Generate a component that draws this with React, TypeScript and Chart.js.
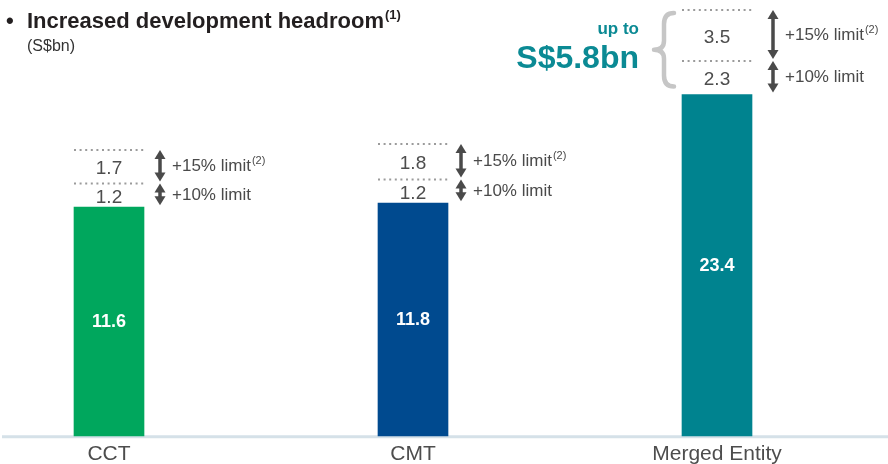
import { useEffect, useRef } from "react";
import { Chart, registerables } from "chart.js";

Chart.register(...registerables);

// ---- data ----
const categories = ["CCT", "CMT", "Merged Entity"];
const baseValues = [11.6, 11.8, 23.4];
const limit10 = [1.2, 1.2, 2.3];
const limit15 = [1.7, 1.8, 3.5];
const limitLabels = ["+10% limit", "+15% limit"];
// the merged entity is drawn on its own (compressed) value scale, as on the original slide
const axisOf = ["y", "y", "y2"];

// ---- styles ----
const barColors = ["#00A75D", "#004A8F", "#00838F"];
const arrowOffsets = [16, 13, 21];
const FONT = '"Liberation Sans", Arial, Helvetica, sans-serif';
const TEXT_GRAY = "#4a4a4a";
const TEAL_TEXT = "#0B8A94";

const pick = (arr: number[], axis: string) =>
  arr.map((v, i) => (axisOf[i] === axis ? v : null));

function drawDoubleArrow(ctx: CanvasRenderingContext2D, x: number, y1: number, y2: number) {
  const hw = 5.5;
  const hh = 9;
  ctx.save();
  ctx.fillStyle = "#4a4a4a";
  ctx.strokeStyle = "#4a4a4a";
  ctx.lineWidth = 3.5;
  ctx.beginPath();
  ctx.moveTo(x, y1 + hh - 1);
  ctx.lineTo(x, y2 - hh + 1);
  ctx.stroke();
  ctx.beginPath();
  ctx.moveTo(x, y1);
  ctx.lineTo(x - hw, y1 + hh);
  ctx.lineTo(x + hw, y1 + hh);
  ctx.closePath();
  ctx.fill();
  ctx.beginPath();
  ctx.moveTo(x, y2);
  ctx.lineTo(x - hw, y2 - hh);
  ctx.lineTo(x + hw, y2 - hh);
  ctx.closePath();
  ctx.fill();
  ctx.restore();
}

const annotPlugin = {
  id: "annot",
  beforeDatasetsDraw(chart: any) {
    const ctx = chart.ctx as CanvasRenderingContext2D;
    const yb = chart.chartArea.bottom + 1;
    ctx.save();
    ctx.strokeStyle = "#D5E1E8";
    ctx.lineWidth = 3;
    ctx.beginPath();
    ctx.moveTo(2, yb);
    ctx.lineTo(chart.width, yb);
    ctx.stroke();
    ctx.restore();
  },
  afterDatasetsDraw(chart: any) {
    const ctx = chart.ctx as CanvasRenderingContext2D;
    let braceInfo: any = null;
    chart.data.datasets.forEach((ds: any, di: number) => {
      const meta = chart.getDatasetMeta(di);
      meta.data.forEach((el: any, i: number) => {
        const v = ds.data[i];
        if (v == null) return;
        const { x, y, base, width } = el.getProps(["x", "y", "base", "width"], true);
        const mid = (y + base) / 2;
        ctx.save();
        if (ds.kind === "base") {
          ctx.fillStyle = "#ffffff";
          ctx.font = `bold 18px ${FONT}`;
          ctx.textAlign = "center";
          ctx.textBaseline = "middle";
          ctx.fillText(v.toFixed(1), x, mid + 1);
        } else {
          // dotted top line
          ctx.strokeStyle = "#9b9b9b";
          ctx.lineWidth = 2;
          ctx.setLineDash([2, 3.6]);
          ctx.beginPath();
          ctx.moveTo(x - width / 2, y);
          ctx.lineTo(x + width / 2, y);
          ctx.stroke();
          ctx.setLineDash([]);
          // value
          ctx.fillStyle = "#4d4d4d";
          ctx.font = `19px ${FONT}`;
          ctx.textAlign = "center";
          ctx.textBaseline = "middle";
          ctx.fillText(v.toFixed(1), x, mid + 2);
          // arrow
          const ax = x + width / 2 + arrowOffsets[i];
          drawDoubleArrow(ctx, ax, y, base - 2);
          // label
          const label = ds.kind === "l15" ? limitLabels[1] : limitLabels[0];
          ctx.fillStyle = TEXT_GRAY;
          ctx.font = `17px ${FONT}`;
          ctx.textAlign = "left";
          ctx.fillText(label, ax + 12, mid);
          if (ds.kind === "l15") {
            const w = ctx.measureText(label).width;
            ctx.font = `11px ${FONT}`;
            ctx.fillText("(2)", ax + 12 + w + 1, mid - 6);
          }
          if (axisOf[i] === "y2") {
            if (!braceInfo) braceInfo = { left: x - width / 2, top: y, bottom: base, idx: i };
            braceInfo.top = Math.min(braceInfo.top, y);
            braceInfo.bottom = Math.max(braceInfo.bottom, base);
          }
        }
        ctx.restore();
      });
    });

    if (braceInfo) {
      const bx = braceInfo.left - 18;
      const top = braceInfo.top + 3;
      const bottom = braceInfo.bottom - 8;
      const mid = (top + bottom) / 2;
      ctx.save();
      ctx.strokeStyle = "#C6C6C6";
      ctx.lineWidth = 4.5;
      ctx.lineCap = "round";
      ctx.lineJoin = "round";
      ctx.beginPath();
      ctx.moveTo(bx + 10, top);
      ctx.quadraticCurveTo(bx, top, bx, top + 11);
      ctx.lineTo(bx, mid - 9);
      ctx.quadraticCurveTo(bx, mid, bx - 10, mid);
      ctx.quadraticCurveTo(bx, mid, bx, mid + 9);
      ctx.lineTo(bx, bottom - 11);
      ctx.quadraticCurveTo(bx, bottom, bx + 10, bottom);
      ctx.stroke();
      const total = limit10[braceInfo.idx] + limit15[braceInfo.idx];
      ctx.fillStyle = TEAL_TEXT;
      ctx.textAlign = "right";
      ctx.textBaseline = "middle";
      ctx.font = `bold 17px ${FONT}`;
      ctx.fillText("up to", bx - 25, mid - 20);
      ctx.font = `bold 32px ${FONT}`;
      ctx.fillText(`S$${total.toFixed(1)}bn`, bx - 25, mid + 9);
      ctx.restore();
    }
  },
  afterDraw(chart: any) {
    const ctx = chart.ctx as CanvasRenderingContext2D;
    ctx.save();
    ctx.fillStyle = "#231F20";
    ctx.textBaseline = "alphabetic";
    ctx.textAlign = "left";
    ctx.font = `bold 22px ${FONT}`;
    ctx.fillText("•", 6, 28);
    const title = "Increased development headroom";
    ctx.fillText(title, 27, 28);
    const tw = ctx.measureText(title).width;
    ctx.font = `bold 13px ${FONT}`;
    ctx.fillText("(1)", 27 + tw + 1, 19);
    ctx.fillStyle = "#333333";
    ctx.font = `16px ${FONT}`;
    ctx.fillText("(S$bn)", 27, 51);
    ctx.restore();
  },
};

export default function App() {
  const ref = useRef<HTMLCanvasElement | null>(null);
  useEffect(() => {
    if (!ref.current) return;
    const datasets: any[] = [];
    for (const axis of ["y", "y2"]) {
      datasets.push({
        kind: "base",
        label: "Base",
        data: pick(baseValues, axis),
        yAxisID: axis,
        backgroundColor: barColors,
        borderWidth: 0,
        clip: false,
      });
      datasets.push({
        kind: "l10",
        label: limitLabels[0],
        data: pick(limit10, axis),
        yAxisID: axis,
        backgroundColor: "rgba(0,0,0,0)",
        borderWidth: 0,
        clip: false,
      });
      datasets.push({
        kind: "l15",
        label: limitLabels[1],
        data: pick(limit15, axis),
        yAxisID: axis,
        backgroundColor: "rgba(0,0,0,0)",
        borderWidth: 0,
        clip: false,
      });
    }
    const mergedTotal = baseValues[2] + limit10[2] + limit15[2];
    const chart = new Chart(ref.current, {
      type: "bar",
      data: { labels: categories, datasets },
      options: {
        animation: false,
        responsive: false,
        barThickness: 70,
        layout: { padding: { left: 109, right: 171, top: 10, bottom: -9 } },
        plugins: { legend: { display: false }, tooltip: { enabled: false }, title: { display: false } },
        scales: {
          x: {
            type: "category",
            offset: false,
            stacked: true,
            grid: { display: false, drawTicks: false },
            border: { display: false },
            ticks: {
              font: { family: FONT, size: 21 },
              color: "#4d4d4d",
              padding: 6,
              maxRotation: 0,
              autoSkip: false,
            },
          },
          y: { display: false, stacked: true, min: 0, max: 21.6 },
          y2: { display: false, stacked: true, min: 0, max: mergedTotal },
        },
      } as any,
      plugins: [annotPlugin],
    });
    return () => chart.destroy();
  }, []);
  return (
    <div style={{ position: "fixed", left: 0, top: 0, width: 888, height: 464, background: "#fff" }}>
      <canvas ref={ref} width={888} height={464} style={{ display: "block" }} />
    </div>
  );
}
